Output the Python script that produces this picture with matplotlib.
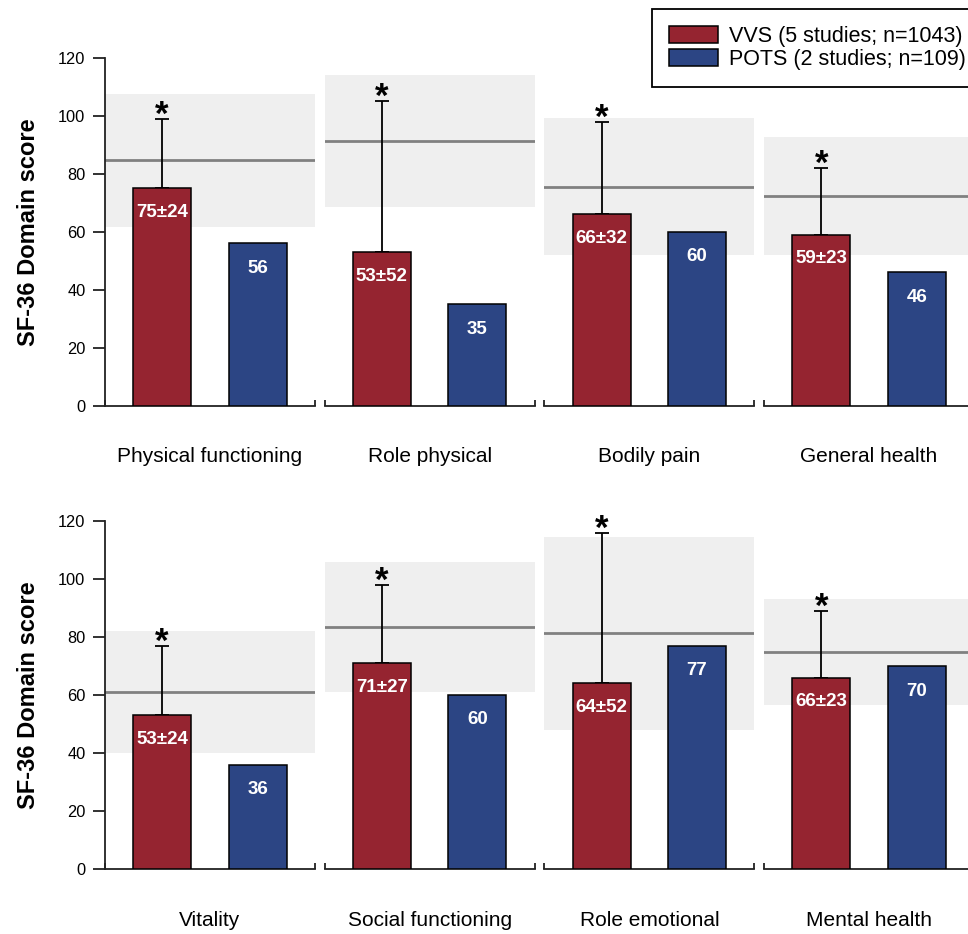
####################################################################################
import matplotlib
matplotlib.use('Agg')
import matplotlib.pyplot as plt
from matplotlib.patches import Patch
####################################################################################
#Data (SF-36 domains, VVS mean/SD, POTS mean, normative mean/SD)
topCats = ['Physical functioning', 'Role physical', 'Bodily pain', 'General health']
bottomCats = ['Vitality', 'Social functioning', 'Role emotional', 'Mental health']
categories = topCats + bottomCats

vvsMean = [75, 53, 66, 59, 53, 71, 64, 66]
vvsSD = [24, 52, 32, 23, 24, 27, 52, 23]
potsMean = [56, 35, 60, 46, 36, 60, 77, 70]
normMean = [84.6, 91.2, 75.5, 72.3, 61.0, 83.5, 81.3, 74.8]
normSD = [23.0, 22.8, 23.6, 20.3, 21.0, 22.5, 33.3, 18.2]

yTicks = [0, 20, 40, 60, 80, 100, 120]
legendLabels = ['VVS (5 studies; n=1043)', 'POTS (2 studies; n=109)']
####################################################################################
#Style
plt.rcParams['font.family'] = ['Liberation Sans', 'DejaVu Sans']
red = '#952430'
blue = '#2C4584'
bandColor = '#EFEFEF'
lineColor = '#808080'
W, H = 968, 934

fig = plt.figure(figsize=(W / 100, H / 100), dpi=100)

#Axes geometry in pixels
axLeft = 105
axStep = 219.7
axWidth = 210
axHeight = 348
rowBottoms = [405.7, 869]

redX = 0.272
blueX = 0.727
barW = 0.276
####################################################################################
for i, cat in enumerate(categories):
	row = i // 4
	col = i % 4
	ax = fig.add_axes([(axLeft + col * axStep) / W, 1 - rowBottoms[row] / H, axWidth / W, axHeight / H])
	ax.set_xlim(0, 1)
	ax.set_ylim(0, 120)

	#Normative band and mean line
	ax.axhspan(normMean[i] - normSD[i], normMean[i] + normSD[i], color=bandColor, lw=0, zorder=0)
	ax.axhline(normMean[i], color=lineColor, lw=2, zorder=1)

	#Bars
	ax.bar([redX], [vvsMean[i]], width=barW, color=red, edgecolor='black', lw=1.1, zorder=3)
	ax.bar([blueX], [potsMean[i]], width=barW, color=blue, edgecolor='black', lw=1.1, zorder=3)
	ax.errorbar([redX], [vvsMean[i]], yerr=[[0], [vvsSD[i]]], fmt='none', ecolor='black',
				elinewidth=1.3, capsize=4.7, capthick=1.3, zorder=2)

	#Asterisk above error bar
	ax.annotate('*', xy=(redX, vvsMean[i] + vvsSD[i]), xytext=(0, -6), textcoords='offset pixels',
				ha='center', va='baseline', fontsize=25, fontweight='bold')

	#Value labels inside bars
	ax.annotate('%d±%d' % (vvsMean[i], vvsSD[i]), xy=(redX, vvsMean[i]), xytext=(0, -24),
				textcoords='offset pixels', ha='center', va='center', color='white',
				fontsize=13.5, fontweight='bold', zorder=5)
	ax.annotate('%d' % potsMean[i], xy=(blueX, potsMean[i]), xytext=(0, -25),
				textcoords='offset pixels', ha='center', va='center', color='white',
				fontsize=13.5, fontweight='bold', zorder=5)

	#Category label
	ax.text(0.5, -51 / axHeight, cat, transform=ax.transAxes, ha='center', va='center', fontsize=15)

	#Spines and ticks
	ax.spines['top'].set_visible(False)
	ax.spines['right'].set_visible(False)
	ax.spines['bottom'].set_linewidth(1.3)
	ax.spines['bottom'].set_color('#222222')
	ax.set_xticks([0, 1])
	ax.set_xticklabels([])
	ax.tick_params(axis='x', direction='in', length=4.5, width=1.3, color='#222222')
	if col == 0:
		ax.spines['left'].set_linewidth(1.3)
		ax.spines['left'].set_color('#222222')
		ax.set_yticks(yTicks)
		ax.tick_params(axis='y', direction='out', length=8.6, width=1.3, labelsize=11.8, pad=5.5, color='#222222')
		ax.set_ylabel('SF-36 Domain score', fontsize=17, fontweight='bold', labelpad=13)
	else:
		ax.spines['left'].set_visible(False)
		ax.set_yticks([])
####################################################################################
#Legend
handles = [Patch(facecolor=red, edgecolor='black', lw=1.1, label=legendLabels[0]),
		   Patch(facecolor=blue, edgecolor='black', lw=1.1, label=legendLabels[1])]
leg = fig.legend(handles=handles, loc='upper left', bbox_to_anchor=(652 / W, 1 - 9 / H), borderaxespad=0,
				 fontsize=15.5, frameon=True, fancybox=False, edgecolor='black', framealpha=1,
				 handlelength=2.28, handleheight=0.84, handletextpad=0.5, labelspacing=0.12, borderpad=0.78)
leg.get_frame().set_linewidth(1.3)

fig.savefig('out.png', dpi=100)
